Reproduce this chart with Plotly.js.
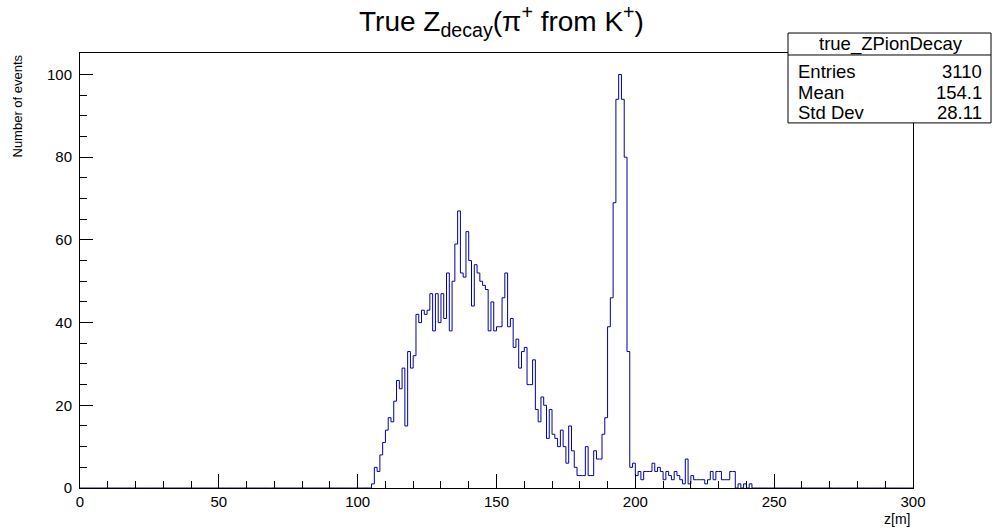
<!DOCTYPE html>
<html>
<head>
<meta charset="utf-8">
<script src="https://cdn.plot.ly/plotly-3.0.1.min.js"></script>
<style>html,body{margin:0;padding:0;background:#fff;}#chart{width:993px;height:531px;}</style>
</head>
<body>
<div id="chart"></div>
<script>
// Histogram: 300 bins of 1 m from 0 to 300; non-empty bins start at firstBin
const binWidth = 1;
const nBins = 300;
const firstBin = 105;
const counts = [
  1, 5, 4, 8, 11, 14, 17, 16, 21, 26, 24, 29, 15, 33, 29, 32,          // 105-120
  42, 40, 43, 42, 43, 47, 38, 47, 40, 47,                                // 121-130
  41, 52, 38, 50, 59, 67, 52, 51, 62, 55,                                // 131-140
  44, 54, 52, 50, 49, 48, 38, 45, 38, 39,                                // 141-150
  39, 46, 52, 39, 41, 34, 36, 29, 33, 34,                                // 151-160
  25, 25, 31, 19, 16, 22, 20, 12, 19, 13,                                // 161-170
  12, 10, 14, 10, 6, 15, 9, 5, 3, 3,                                     // 171-180
  3, 10, 3, 3, 9, 7, 7, 13, 17, 39,                                      // 181-190
  46, 69, 94, 100, 94, 80, 33, 5, 6, 3,                                  // 191-200
  4, 2, 4, 4, 4, 6, 4, 5, 4, 2,                                          // 201-210
  4, 3, 2, 4, 3, 2, 1, 7, 1, 3,                                          // 211-220
  2, 2, 2, 2, 1, 2, 4, 2, 4, 4,                                          // 221-230
  2, 2, 2, 4, 4, 0, 1, 0, 1, 0, 1                                        // 231-241
];
const xTickVals = [0, 50, 100, 150, 200, 250, 300];
const yTickVals = [0, 20, 40, 60, 80, 100];
const statsName = "true_ZPionDecay";
const statsLabels = ["Entries", "Mean", "Std Dev"];
const statsValues = ["3110", "154.1", "28.11"];

// build step line over full axis range
const xs = [], ys = [];
for (let i = 0; i < nBins; i++) {
  const k = i - firstBin;
  const v = (k >= 0 && k < counts.length) ? counts[k] : 0;
  xs.push(i * binWidth); ys.push(v);
}
xs.push(nBins * binWidth); ys.push(ys[ys.length - 1]);

const font = "Liberation Sans, Arial, Helvetica, sans-serif";
const L = 80, R = 913, T = 53, B = 488.5;
const px = x => (x - L) / (R - L);
const py = y => (B - y) / (B - T);

const trace = {
  x: xs, y: ys, type: 'scatter', mode: 'lines',
  line: {shape: 'hv', color: '#0000a0', width: 1},
  hoverinfo: 'skip', showlegend: false
};

const annotations = [
  {text: 'Number of events', xref: 'paper', yref: 'paper', x: px(17), y: py(53),
   xanchor: 'center', yanchor: 'top', textangle: -90, showarrow: false,
   font: {family: font, size: 13, color: '#000'}},
  {text: 'z[m]', xref: 'paper', yref: 'paper', x: px(912), y: py(530),
   xanchor: 'right', yanchor: 'bottom', showarrow: false,
   font: {family: font, size: 14, color: '#000'}},
  {text: statsName, xref: 'paper', yref: 'paper', x: px(891), y: py(44),
   xanchor: 'center', yanchor: 'middle', showarrow: false,
   font: {family: font, size: 18.5, color: '#000'}}
];
const rowY = [71.5, 92.5, 113];
for (let i = 0; i < statsLabels.length; i++) {
  annotations.push({text: statsLabels[i], xref: 'paper', yref: 'paper',
    x: px(796), y: py(rowY[i]), xanchor: 'left', yanchor: 'middle',
    showarrow: false, font: {family: font, size: 18.5, color: '#000'}});
  annotations.push({text: statsValues[i], xref: 'paper', yref: 'paper',
    x: px(984), y: py(rowY[i]), xanchor: 'right', yanchor: 'middle',
    showarrow: false, font: {family: font, size: 18.5, color: '#000'}});
}

const layout = {
  width: 993, height: 531,
  margin: {l: L, r: 993 - R, t: T, b: 531 - B, pad: 0},
  paper_bgcolor: '#fff', plot_bgcolor: '#fff',
  font: {family: font, size: 15, color: '#000'},
  title: {text: 'True Z<sub>decay</sub>(π<sup>+</sup> from K<sup>+</sup>)',
          x: 0.505, xref: 'container', y: 0.96, yref: 'container', yanchor: 'middle',
          font: {family: font, size: 28, color: '#000'}},
  xaxis: {range: [0, 300], tickvals: xTickVals, ticks: 'inside', ticklen: 14, tickwidth: 1,
          tickcolor: '#000', showline: true, linecolor: '#000', linewidth: 1, mirror: true,
          showgrid: false, zeroline: false, tickfont: {size: 15},
          minor: {dtick: 10, ticks: 'inside', ticklen: 7, tickcolor: '#000', showgrid: false}},
  yaxis: {range: [0, 105.2], tickvals: yTickVals, ticks: 'inside', ticklen: 13, tickwidth: 1,
          tickcolor: '#000', showline: true, linecolor: '#000', linewidth: 1, mirror: true,
          showgrid: false, zeroline: false, tickfont: {size: 15}, ticklabelstandoff: 4,
          minor: {dtick: 5, ticks: 'inside', ticklen: 7, tickcolor: '#000', showgrid: false}},
  shapes: [
    {type: 'rect', xref: 'paper', yref: 'paper', x0: px(788), x1: px(991),
     y0: py(123), y1: py(33),
     line: {color: '#000', width: 1}, fillcolor: '#fff', layer: 'above'},
    {type: 'line', xref: 'paper', yref: 'paper', x0: px(788), x1: px(991),
     y0: py(55), y1: py(55), line: {color: '#000', width: 1}}
  ],
  annotations: annotations
};

Plotly.newPlot('chart', [trace], layout, {staticPlot: true, displayModeBar: false});
</script>
</body>
</html>
